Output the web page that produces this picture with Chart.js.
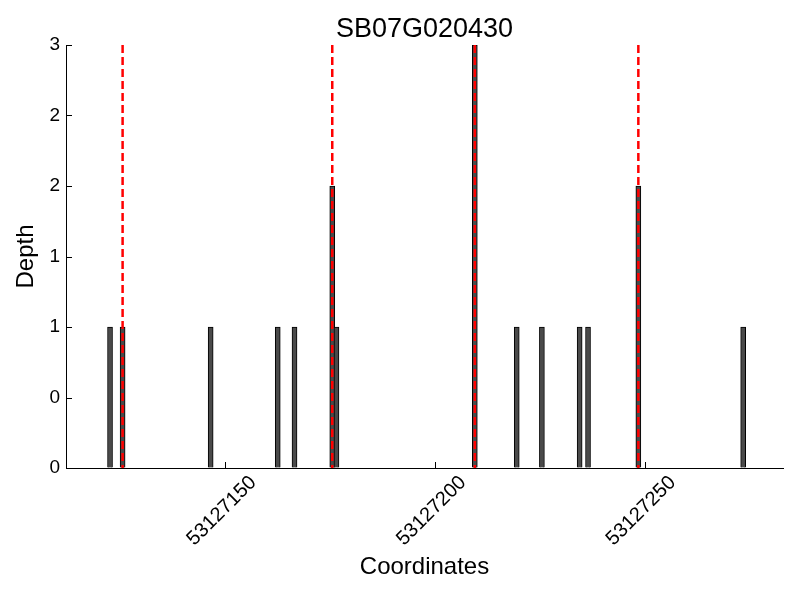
<!DOCTYPE html>
<html>
<head>
<meta charset="utf-8">
<script src="https://cdn.jsdelivr.net/npm/chart.js@4"></script>
<style>
  body { margin: 0; background: #fff; }
  #graph { width: 800px; height: 600px; }
</style>
</head>
<body>
<div id="graph"><canvas id="chartCanvas" width="800" height="600"></canvas></div>
<script>
// Données
const chartTitle = 'SB07G020430';
const positions = [53127122.5, 53127125.5, 53127146.5, 53127162.5, 53127166.5, 53127175.5, 53127176.5,
                   53127209.5, 53127219.5, 53127225.5, 53127234.5, 53127236.5, 53127248.5, 53127273.5];
const depths = [1, 1, 1, 1, 1, 2, 1, 3, 1, 1, 1, 1, 2, 1];
const markerPositions = [53127125.5, 53127175.5, 53127209.5, 53127248.5];
const xTickValues = [53127150, 53127200, 53127250];
const xMin = 53127112;
const xMax = 53127283;
const yMax = 3;

const fontFamily = '"Liberation Sans", Arial, Helvetica, sans-serif';

// Jeux de données : barres + lignes verticales en pointillés
const datasets = [{
    type: 'bar',
    label: 'Depth',
    data: positions.map((p, i) => ({ x: p, y: depths[i] })),
    backgroundColor: '#4a4a4a',
    borderColor: '#000',
    borderWidth: 1,
    barThickness: 5,
    order: 2
}];

markerPositions.forEach(p => {
    datasets.push({
        type: 'line',
        label: 'marker',
        data: [{ x: p, y: yMax }, { x: p, y: 0 }],
        borderColor: '#ff0000',
        borderWidth: 2.5,
        borderDash: [8, 4],
        pointRadius: 0,
        fill: false,
        order: 1
    });
});

// Petits traits de graduation vers l'intérieur + titre centré sur la zone du graphique
const insideTicks = {
    id: 'insideTicks',
    afterDraw(chart) {
        const ctx = chart.ctx;
        const area = chart.chartArea;
        const xs = chart.scales.x;
        const ys = chart.scales.y;
        ctx.save();
        ctx.strokeStyle = '#000';
        ctx.lineWidth = 1;
        ctx.beginPath();
        xs.ticks.forEach(t => {
            const px = Math.round(xs.getPixelForValue(t.value)) + 0.5;
            ctx.moveTo(px, area.bottom);
            ctx.lineTo(px, area.bottom - 6);
        });
        ys.ticks.forEach(t => {
            const py = Math.round(ys.getPixelForValue(t.value)) + 0.5;
            ctx.moveTo(area.left, py);
            ctx.lineTo(area.left + 6, py);
        });
        ctx.stroke();

        ctx.fillStyle = '#000';
        ctx.font = '27px ' + fontFamily;
        ctx.textAlign = 'center';
        ctx.textBaseline = 'alphabetic';
        ctx.fillText(chartTitle, (area.left + area.right) / 2, 37);
        ctx.restore();
    }
};

const canvas = document.getElementById('chartCanvas');
const chart = new Chart(canvas, {
    data: { datasets: datasets },
    options: {
        responsive: false,
        animation: false,
        layout: { padding: { top: 45, right: 17, bottom: 0, left: 0 } },
        plugins: {
            legend: { display: false },
            tooltip: { enabled: false },
            title: { display: false }
        },
        scales: {
            x: {
                type: 'linear',
                min: xMin,
                max: xMax,
                offset: false,
                grid: { display: true, drawOnChartArea: false, drawTicks: false, offset: false },
                border: { display: true, color: '#000', width: 1 },
                afterBuildTicks: scale => {
                    scale.ticks = xTickValues.map(v => ({ value: v }));
                },
                afterFit: scale => { scale.height = 132; },
                ticks: {
                    autoSkip: false,
                    minRotation: 45,
                    maxRotation: 45,
                    labelOffset: 28,
                    padding: 3,
                    color: '#000',
                    font: { family: fontFamily, size: 20 },
                    callback: v => String(v)
                },
                title: {
                    display: true,
                    text: 'Coordinates',
                    color: '#000',
                    font: { family: fontFamily, size: 24 },
                    padding: { top: 0, bottom: 18 }
                }
            },
            y: {
                type: 'linear',
                min: 0,
                max: yMax,
                grid: { display: true, drawOnChartArea: false, drawTicks: false },
                border: { display: true, color: '#000', width: 1 },
                afterFit: scale => { scale.width = 66; },
                ticks: {
                    stepSize: 0.5,
                    padding: 6,
                    color: '#000',
                    font: { family: fontFamily, size: 19 },
                    callback: v => String(Math.floor(v))
                },
                title: {
                    display: true,
                    text: 'Depth',
                    color: '#000',
                    font: { family: fontFamily, size: 24 },
                    padding: { top: 12, bottom: 0 }
                }
            }
        }
    },
    plugins: [insideTicks]
});
</script>
</body>
</html>
